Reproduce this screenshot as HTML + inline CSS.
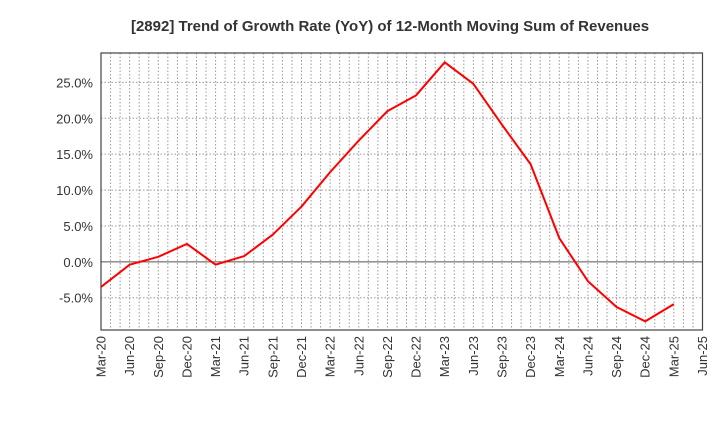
<!DOCTYPE html>
<html><head><meta charset="utf-8"><style>
body{margin:0;background:#fff;}
svg text{font-family:"Liberation Sans",Arial,sans-serif;}
</style></head><body>
<svg id="chart" width="720" height="440" xmlns="http://www.w3.org/2000/svg">
<text x="390" y="31" text-anchor="middle" font-size="15" font-weight="bold" fill="#333">[2892]  Trend of Growth Rate (YoY) of 12-Month Moving Sum of Revenues</text>
<g id="grid"></g><g id="axes"></g><g id="series"></g>
</svg>
<script>
const categories=["Mar-20","Jun-20","Sep-20","Dec-20","Mar-21","Jun-21","Sep-21","Dec-21","Mar-22","Jun-22","Sep-22","Dec-22","Mar-23","Jun-23","Sep-23","Dec-23","Mar-24","Jun-24","Sep-24","Dec-24","Mar-25","Jun-25"];
const growthValues=[-3.5,-0.4,0.7,2.5,-0.4,0.8,3.8,7.7,12.5,16.9,21.0,23.2,27.8,24.8,19.1,13.6,3.3,-2.7,-6.3,-8.3,-5.9];
const yTicks=[-5,0,5,10,15,20,25];
const NS="http://www.w3.org/2000/svg";
const L=101,R=702.5,T=53,B=330,yMin=-9.5,yMax=29.1;
const step=(R-L)/(categories.length-1);
const xs=i=>L+i*step;
const ys=v=>B-(v-yMin)/(yMax-yMin)*(B-T);
function mk(tag,attrs,parent){const e=document.createElementNS(NS,tag);for(const k in attrs)e.setAttribute(k,attrs[k]);parent.appendChild(e);return e;}
const grid=document.getElementById('grid'),axes=document.getElementById('axes'),series=document.getElementById('series');
for(let m=1;m<(categories.length-1)*3;m++){const x=L+m*step/3;
const g=mk('line',{x1:x,x2:x,y1:T,y2:B,stroke:'#999','stroke-dasharray':'1.5,2','stroke-width':1},grid);

}
yTicks.forEach(v=>{const y=ys(v);
const g=mk('line',{x1:L,x2:R,y1:y,y2:y,stroke:v===0?'#555':'#999','stroke-dasharray':v===0?'none':'1.5,2','stroke-width':1},grid);


const t=mk('text',{x:L-8,y:y+5,'text-anchor':'end','font-size':13,fill:'#333'},axes);
t.textContent=v.toFixed(1)+'%';

});
categories.forEach((c,i)=>{const x=xs(i);
const t=mk('text',{x:0,y:0,transform:`translate(${x+4.5},${B+6}) rotate(-90)`,'text-anchor':'end','font-size':13,fill:'#333'},axes);
t.textContent=c;

});
const fr=mk('rect',{x:L,y:T,width:R-L,height:B-T,fill:'none',stroke:'#444','stroke-width':1.2},axes);


const pl=mk('polyline',{points:growthValues.map((v,i)=>xs(i)+','+ys(v)).join(' '),fill:'none',stroke:'#ff0000','stroke-width':2,'stroke-linejoin':'round'},series);


</script>
</body></html>
